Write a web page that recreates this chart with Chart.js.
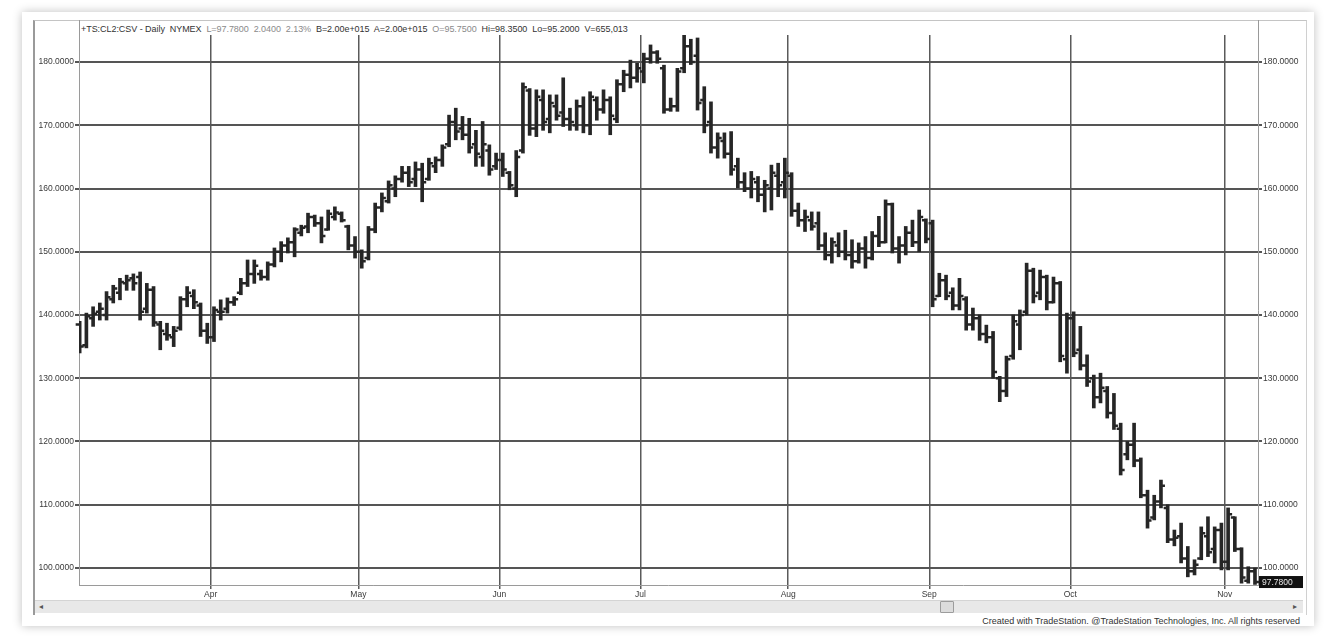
<!DOCTYPE html>
<html>
<head>
<meta charset="utf-8">
<script src="https://cdn.jsdelivr.net/npm/chart.js@4.4.1/dist/chart.umd.min.js"></script>
<style>
  body { margin: 0; background: #fff; width: 1338px; height: 639px; overflow: hidden; font-family: "Liberation Sans", Arial, sans-serif; }
  #frame { position: absolute; left: 22px; top: 12px; width: 1292px; height: 614px; background: #fff; box-shadow: 0 0 9px rgba(0,0,0,0.25); overflow: hidden; }
  #panel { position: absolute; left: 11px; top: 8px; width: 1271px; height: 594px; border-left: 2px solid #9a9a9a; border-top: 1px solid #c4c4c4; border-right: 1px solid #d0d0d0; }
  #credit { position: absolute; right: 14px; top: 604px; font-size: 9px; color: #333; white-space: nowrap; }
  #plotEdgeL { position: absolute; left: 79px; top: 20px; width: 1px; height: 16px; background: #999; }
  #plotEdgeR { position: absolute; left: 1258px; top: 20px; width: 1px; height: 16px; background: #999; }
  #header { position: absolute; left: 81px; top: 24px; font-size: 9px; color: #333; white-space: nowrap; letter-spacing: -0.05px; }
  #header .g { color: #8a8a8a; }
  #scroll { position: absolute; left: 35px; top: 600px; width: 1268px; height: 12px; background: #e8e8e8; border-top: 1px solid #d4d4d4; font-size: 8px; color: #555; }
  #scroll .la { position: absolute; left: 4px; top: 1px; }
  #scroll .ra { position: absolute; right: 6px; top: 1px; }
  #thumb { position: absolute; left: 905px; top: 0px; width: 12px; height: 10px; background: #dcdcdc; border: 1px solid #9c9c9c; border-radius: 1px; }
  canvas { position: absolute; left: 0; top: 0; }
</style>
</head>
<body>
<div id="frame"><div id="panel"></div><div id="credit">Created with TradeStation. @TradeStation Technologies, Inc. All rights reserved</div></div>
<div id="plotEdgeL"></div>
<div id="plotEdgeR"></div>
<div id="header">+TS:CL2:CSV - Daily&nbsp; NYMEX&nbsp; <span class="g">L=97.7800&nbsp; 2.0400&nbsp; 2.13%</span>&nbsp; B=2.00e+015&nbsp; A=2.00e+015&nbsp; <span class="g">O=95.7500</span>&nbsp; Hi=98.3500&nbsp; Lo=95.2000&nbsp; V=655,013</div>
<div id="scroll"><span class="la">&#9666;</span><div id="thumb"></div><span class="ra">&#9656;</span></div>
<canvas id="chart" width="1338" height="639"></canvas>
<script>
// daily bars, Mar 3 .. Nov 7 (one entry per trading day)
const opens = [
  138.5, 135.2, 139.5, 140.5, 140.0, 142.5, 143.5, 145.0, 145.8, 146.0,
  141.0, 144.0, 138.5, 137.0, 136.5, 138.0, 142.5, 143.0, 141.5, 137.5,
  136.5, 140.5, 141.0, 142.0, 143.5, 145.0, 146.5, 146.5, 146.0, 148.0,
  150.0, 151.0, 151.5, 153.0, 154.0, 155.5, 154.5, 153.5, 155.5, 156.0,
  154.0, 151.0,
  150.0, 149.0, 153.5, 157.0, 158.0, 160.0, 161.5, 162.5, 161.5, 163.0,
  161.5, 163.5, 164.5, 167.0, 170.5, 169.5, 168.5, 167.0, 165.0, 166.0,
  163.5,
  164.5, 162.5, 160.0, 166.0, 175.5, 169.5, 174.0, 171.0, 173.0, 172.0,
  171.0, 170.0, 173.0, 170.0, 174.0, 172.5, 174.0, 171.0, 176.5, 178.0,
  177.5,
  178.5, 180.5, 181.5, 179.0, 172.5, 173.0, 179.0, 182.5, 181.0, 174.0,
  170.5, 166.5, 167.5, 165.5, 163.5, 161.0, 160.0, 161.0, 159.0, 160.0,
  162.0, 161.0,
  162.0, 156.5, 155.0, 155.0, 154.5, 151.0, 149.5, 151.0, 150.0, 149.5,
  148.5, 150.5, 149.0, 152.5, 151.5, 157.5, 150.5, 151.0, 153.0, 151.5,
  155.0,
  154.5, 143.0, 145.5, 143.5, 141.5, 142.5, 138.5, 139.5, 137.0, 136.5,
  130.0, 128.0, 133.5, 138.5, 140.5, 147.0, 143.5, 146.0, 142.0, 145.0,
  133.0,
  139.5, 134.5, 132.0, 130.0, 127.0, 128.0, 124.5, 122.0, 118.0, 119.5,
  117.0, 111.5, 108.0, 110.5, 109.5, 104.5, 105.0, 101.5, 99.5, 101.5,
  105.0, 103.0, 106.0,
  101.0, 108.0, 103.0, 98.0, 99.5
];
const highs = [
  139.0, 140.3, 141.3, 141.9, 143.7, 144.7, 145.8, 146.3, 146.5, 146.8,
  145.0, 144.5, 139.0, 138.7, 138.2, 142.9, 144.5, 144.0, 141.9, 138.7,
  141.3, 142.4, 142.7, 142.9, 145.8, 148.7, 148.7, 147.1, 148.4, 150.6,
  151.6, 152.2, 153.8, 154.2, 156.1, 155.8, 155.5, 156.6, 157.1, 156.3,
  154.2, 152.4,
  150.3, 154.0, 157.7, 159.3, 161.2, 162.0, 163.5, 163.5, 164.2, 164.0,
  164.8, 165.0, 166.9, 171.6, 172.7, 171.4, 171.1, 169.2, 170.6, 166.9,
  165.6,
  165.6, 162.7, 166.0, 176.7, 175.8, 175.6, 175.6, 174.8, 174.8, 177.5,
  172.7, 174.0, 174.5, 175.3, 174.5, 175.6, 174.5, 177.2, 178.7, 180.3,
  179.8,
  181.4, 182.7, 181.8, 179.5, 174.3, 179.0, 184.4, 183.6, 183.8, 176.1,
  173.7, 168.8, 168.8, 169.0, 164.8, 162.5, 162.7, 161.9, 161.3, 163.7,
  164.0, 164.8,
  162.5, 157.7, 156.6, 156.3, 156.3, 153.0, 152.2, 153.0, 153.4, 151.9,
  151.4, 152.4, 153.2, 155.6, 158.2, 157.7, 152.4, 154.0, 155.0, 156.6,
  155.2,
  155.0, 146.6, 146.3, 144.3, 145.8, 142.9, 141.1, 140.0, 138.4, 137.4,
  130.3, 133.5, 140.0, 140.8, 148.2, 147.4, 147.1, 146.3, 146.0, 145.3,
  140.3,
  140.5, 138.2, 133.7, 130.5, 130.8, 128.7, 127.6, 122.9, 120.0, 122.9,
  117.4, 112.3, 111.5, 113.9, 110.0, 106.0, 107.1, 103.4, 101.3, 106.5,
  108.1, 106.5, 107.1,
  109.5, 108.1, 103.2, 100.2, 100.0
];
const lows = [
  134.0, 134.8, 138.2, 139.2, 139.2, 141.9, 142.4, 143.9, 143.9, 139.2,
  140.3, 138.2, 134.5, 136.0, 135.0, 137.6, 141.3, 141.0, 136.6, 135.5,
  135.8, 139.2, 140.3, 141.5, 143.2, 144.5, 145.0, 145.5, 145.5, 147.6,
  148.4, 149.8, 149.2, 152.5, 153.0, 154.0, 151.4, 153.4, 155.0, 154.7,
  150.3, 149.0,
  147.4, 148.7, 153.0, 156.3, 157.7, 158.7, 161.0, 160.3, 160.3, 157.9,
  161.3, 162.5, 163.5, 166.6, 167.7, 167.7, 165.6, 163.5, 163.5, 162.1,
  163.0,
  161.9, 159.8, 158.7, 165.6, 168.4, 168.2, 169.2, 168.8, 170.8, 169.8,
  169.2, 169.2, 168.8, 168.5, 170.8, 171.9, 168.5, 170.4, 175.3, 175.9,
  176.8,
  176.7, 179.8, 179.8, 171.9, 172.2, 172.2, 178.3, 179.6, 172.4, 168.8,
  165.6, 164.8, 164.8, 162.1, 160.1, 159.5, 158.5, 157.9, 156.3, 156.6,
  158.7, 158.5,
  155.6, 154.0, 153.2, 153.4, 150.3, 148.7, 148.2, 149.2, 148.7, 147.4,
  148.2, 147.4, 148.7, 150.8, 151.4, 149.8, 148.2, 149.5, 150.8, 150.0,
  151.4,
  141.3, 142.9, 142.4, 140.8, 140.8, 137.6, 137.6, 136.0, 135.6, 130.0,
  126.3, 127.1, 133.0, 134.5, 140.0, 141.9, 142.4, 140.8, 141.9, 132.6,
  130.8,
  133.4, 131.3, 128.7, 125.3, 126.1, 123.7, 121.9, 114.7, 117.1, 116.0,
  111.1, 106.3, 107.6, 109.5, 104.0, 103.5, 100.8, 98.6, 98.9, 101.3,
  101.8, 100.8, 99.7,
  99.7, 102.6, 97.6, 97.6, 97.4
];
const closes = [
  135.0, 139.8, 140.2, 141.0, 142.8, 144.2, 145.2, 145.5, 145.0, 140.5,
  144.0, 138.8, 137.5, 136.8, 137.5, 142.5, 143.5, 142.0, 137.5, 136.5,
  140.8, 140.5, 142.0, 142.5, 145.0, 146.5, 147.8, 146.0, 148.0, 150.0,
  151.0, 151.5, 153.5, 153.8, 155.5, 154.5, 152.5, 156.0, 156.2, 155.0,
  151.0, 150.0,
  148.5, 153.5, 157.0, 158.5, 160.5, 161.5, 162.5, 161.0, 163.0, 161.0,
  164.0, 164.5, 166.5, 170.5, 169.0, 168.5, 166.5, 165.5, 167.0, 163.0,
  164.5,
  163.0, 160.5, 165.0, 176.0, 169.5, 174.5, 170.5, 173.5, 171.5, 171.0,
  170.5, 173.0, 170.0, 174.5, 172.5, 174.0, 171.5, 176.5, 178.0, 177.5,
  179.0,
  180.5, 181.5, 180.5, 172.5, 173.0, 178.5, 182.5, 180.0, 173.5, 170.0,
  166.5, 168.0, 165.5, 163.0, 161.0, 160.0, 161.5, 159.0, 160.5, 162.5,
  160.5, 162.5,
  156.5, 155.0, 155.5, 154.0, 151.0, 149.5, 151.5, 150.0, 149.5, 148.5,
  150.5, 149.0, 152.5, 151.5, 157.5, 150.5, 151.0, 153.0, 151.5, 155.5,
  152.0,
  142.5, 145.5, 143.0, 141.5, 143.0, 138.5, 139.5, 137.0, 136.5, 131.0,
  128.0, 133.0, 139.0, 140.0, 147.0, 143.0, 146.0, 142.0, 145.0, 133.5,
  139.5,
  134.0, 132.0, 129.5, 127.0, 128.5, 124.5, 122.5, 115.5, 119.5, 117.0,
  111.5, 107.5, 110.5, 113.0, 104.5, 104.8, 101.5, 99.5, 100.5, 105.5,
  102.5, 106.0, 101.0,
  108.5, 103.0, 98.5, 99.5, 97.78
];
const monthNames = ["Apr", "May", "Jun", "Jul", "Aug", "Sep", "Oct", "Nov"];
const monthStarts = [20, 42, 63, 84, 106, 127, 148, 171];
const priceTicks = [100, 110, 120, 130, 140, 150, 160, 170, 180];

const BAR_COLOR = "#262626";
const AXIS_FONT = { family: "'Liberation Sans', Arial, sans-serif", size: 8.5 };

// open tick left, close tick right
const ohlcTicks = {
  id: "ohlcTicks",
  afterDatasetsDraw(chart) {
    const { ctx, scales } = chart;
    const xs = scales.x, ys = scales.y;
    ctx.save();
    ctx.strokeStyle = BAR_COLOR;
    ctx.lineWidth = 2.5;
    ctx.beginPath();
    opens.forEach((o, i) => {
      const x = xs.getPixelForValue(i);
      const yo = ys.getPixelForValue(o);
      const yc = ys.getPixelForValue(closes[i]);
      ctx.moveTo(x - 4, yo);
      ctx.lineTo(x, yo);
      ctx.moveTo(x, yc);
      ctx.lineTo(x + 4, yc);
    });
    ctx.stroke();
    ctx.restore();
  },
  afterDraw(chart) {
    // last price marker on the right scale
    const { ctx, scales, chartArea } = chart;
    const last = closes[closes.length - 1];
    const y = scales.y2.getPixelForValue(last);
    ctx.save();
    ctx.fillStyle = "#111";
    ctx.fillRect(chartArea.right + 1, y - 6, 44, 12);
    ctx.fillStyle = "#e6e6e6";
    ctx.font = "8.5px 'Liberation Sans', Arial, sans-serif";
    ctx.textBaseline = "middle";
    ctx.fillText(last.toFixed(4), chartArea.right + 4, y + 0.5);
    ctx.restore();
  }
};

const yScale = (position, fit) => ({
  type: "linear",
  position: position,
  min: 97.31,
  max: 184.27,
  afterBuildTicks: (s) => { s.ticks = priceTicks.map((v) => ({ value: v })); },
  ticks: { callback: (v) => v.toFixed(4), font: AXIS_FONT, color: "#3a3a3a", padding: 1 },
  grid: { color: "#555", lineWidth: 2, tickLength: 4, drawOnChartArea: position === "left" },
  border: { color: "#9a9a9a", width: 1 },
  afterFit: (s) => { s.width = fit; }
});

new Chart(document.getElementById("chart"), {
  type: "bar",
  data: {
    datasets: [{
      data: lows.map((l, i) => ({ x: i, y: [l, highs[i]] })),
      backgroundColor: BAR_COLOR,
      borderWidth: 0,
      barThickness: 3
    }]
  },
  options: {
    responsive: false,
    animation: false,
    layout: { padding: { left: 33, right: 33, top: 35, bottom: 40 } },
    plugins: { legend: { display: false }, tooltip: { enabled: false } },
    scales: {
      x: {
        type: "linear",
        min: -0.1,
        max: 175.45,
        offset: false,
        afterBuildTicks: (s) => { s.ticks = monthStarts.map((v) => ({ value: v - 0.5 })); },
        ticks: { callback: (v, i) => monthNames[i], font: AXIS_FONT, color: "#3a3a3a", padding: 1, maxRotation: 0, autoSkip: false },
        grid: { color: "#5a5a5a", lineWidth: 1.5, tickLength: 4, offset: false },
        border: { color: "#9a9a9a", width: 1 },
        afterFit: (s) => { s.height = 14; }
      },
      y: yScale("left", 46),
      y2: yScale("right", 47)
    }
  },
  plugins: [ohlcTicks]
});
</script>
</body>
</html>
